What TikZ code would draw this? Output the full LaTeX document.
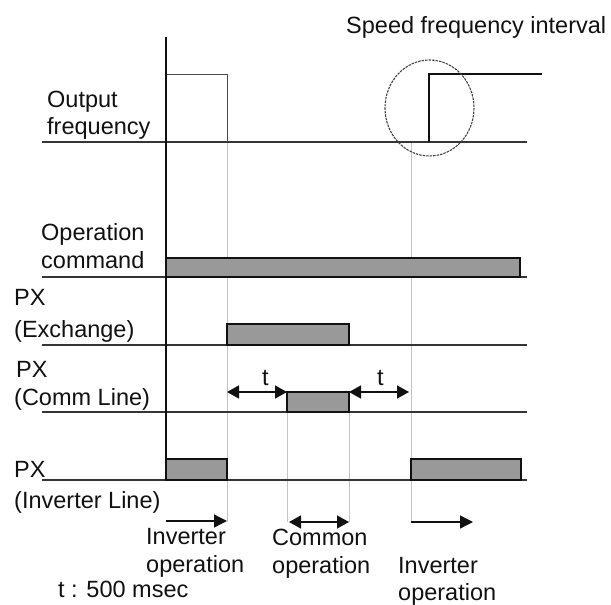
\documentclass[tikz,border=0pt]{standalone}
\usepackage{fontspec}
\setmainfont{Liberation Sans}
\usetikzlibrary{arrows.meta}
\definecolor{barfill}{HTML}{999999}
\definecolor{guide}{HTML}{C4C4C4}
\definecolor{ink}{HTML}{111111}
\begin{document}
\begin{tikzpicture}[x=1pt,y=-1pt,
  lbl/.style={anchor=base west,inner sep=0pt,text=ink,font=\fontsize{23.5}{28}\selectfont},
  baseln/.style={line width=2.2pt,draw=ink!85},
  axisln/.style={line width=1.6pt,draw=ink},
  guideln/.style={line width=1pt,draw=guide},
  sigbar/.style={fill=barfill,draw=ink,line width=1.4pt},
  tip/.style={-{Triangle[length=13pt,width=13pt]},line width=1.4pt,draw=ink,fill=ink},
  dtip/.style={{Triangle[length=12pt,width=13pt]}-{Triangle[length=12pt,width=13pt]},line width=1.4pt,draw=ink,fill=ink}]
\useasboundingbox (0,0) rectangle (611,605);
% guide lines
\draw[guideln] (227,74) -- (227,522);
\draw[guideln] (287,392) -- (287,522);
\draw[guideln] (349,392) -- (349,522);
\draw[guideln] (411,142) -- (411,522);
% baselines
\draw[baseln] (42,142) -- (527,142);
\draw[baseln] (42,277) -- (527,277);
\draw[baseln] (42,345) -- (527,345);
\draw[baseln] (42,412) -- (527,412);
\draw[baseln] (42,480) -- (527,480);
% output frequency
\draw[line width=1pt,draw=ink!75] (166,74) -- (227,74) -- (227,142);
\draw[line width=1.7pt,draw=ink] (429,142) -- (429,74) -- (542,74);
\draw[line width=1.1pt,draw=ink!80,dash pattern=on 2.5pt off 1pt] (429.5,108) ellipse [x radius=44.5,y radius=48];
% bars
\draw[sigbar] (166,258) rectangle (520,277);
\draw[sigbar] (227,324) rectangle (349,345);
\draw[sigbar] (287,392) rectangle (349,412);
\draw[sigbar] (166,459) rectangle (227,480);
\draw[sigbar] (411,459) rectangle (521,480);
% axis
\draw[axisln] (166,37) -- (166,480);
% arrow coordinates
\coordinate (ta1) at (227,392); \coordinate (ta2) at (287,392);
\coordinate (tb1) at (349,392); \coordinate (tb2) at (409,392);
\coordinate (ia1) at (166,521); \coordinate (ia2) at (227,521);
\coordinate (ca1) at (289,522); \coordinate (ca2) at (349,522);
\coordinate (ib1) at (411,522); \coordinate (ib2) at (473,522);
\draw[dtip] (ta1) -- (ta2);
\draw[dtip] (tb1) -- (tb2);
\draw[tip] (ia1) -- (ia2);
\draw[dtip] (ca1) -- (ca2);
\draw[tip] (ib1) -- (ib2);
% labels
\node[lbl] (sfi) at (346,33) {Speed frequency interval};
\node[lbl] (of1) at (47,107) {Output};
\node[lbl] (of2) at (47,134) {frequency};
\node[lbl] (oc1) at (41,240) {Operation};
\node[lbl] (oc2) at (41,268) {command};
\node[lbl] (ex1) at (14,305) {PX};
\node[lbl] (ex2) at (14,337) {(Exchange)};
\node[lbl] (cl1) at (16,377) {PX};
\node[lbl] (cl2) at (14,405) {(Comm Line)};
\node[lbl] (il1) at (14,477) {PX};
\node[lbl] (il2) at (14,508) {(Inverter Line)};
\node[lbl] (t1) at (262,385) {t};
\node[lbl] (t2) at (377,385) {t};
\node[lbl] (io1) at (146,544) {Inverter};
\node[lbl] (io2) at (146,572) {operation};
\node[lbl] (co1) at (272,545) {Common};
\node[lbl] (co2) at (272,573) {operation};
\node[lbl] (ir1) at (398,573) {Inverter};
\node[lbl] (ir2) at (398,600) {operation};
\node[lbl] (tm) at (58,597) {t : 500 msec};
\end{tikzpicture}
\end{document}
